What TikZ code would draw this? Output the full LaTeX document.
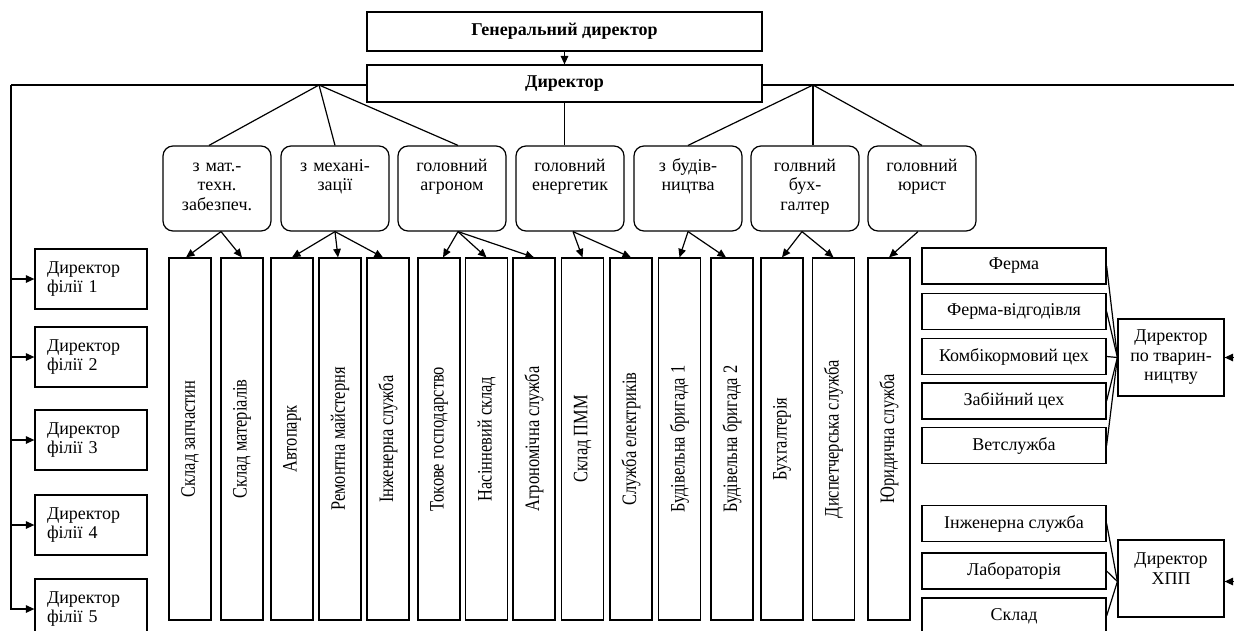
\documentclass[tikz,border=0pt]{standalone}
\usepackage{fontspec}
\setmainfont{Liberation Serif}
\usepackage{graphicx}
\usetikzlibrary{arrows.meta}
\newcommand\fsn{\fontsize{18}{19.5}\selectfont}
\newcommand\fsb{\fontsize{18}{19.5}\selectfont\bfseries}
\newcommand\fsv{\fontsize{20.5}{22}\selectfont}
\newcommand\vt[1]{\scalebox{0.8}[1]{\fsv #1}}
\begin{document}
\begin{tikzpicture}[x=1pt,y=-1pt,
  ln/.style={line width=1.2pt},
  arr/.style={line width=1.2pt,-{Triangle[length=8.5pt,width=7.5pt]}},
  topbox/.style={draw,line width=1.2pt,minimum width=395pt,inner sep=0pt,font=\fsb},
  rbox/.style={draw,line width=1.2pt,rounded corners=10pt,minimum width=108pt,minimum height=85pt,inner sep=0pt},
  rtext/.style={text width=106pt,align=center,anchor=base,inner sep=0pt,font=\fsn},
  vbox/.style={draw,line width=1.2pt,rotate=90,minimum width=362pt,minimum height=42pt,inner sep=0pt},
  lbox/.style={draw,line width=1.2pt,minimum width=112pt,minimum height=60pt,text width=88pt,inner xsep=12pt,inner ysep=0pt,align=left,font=\fsn},
  sbox/.style={draw,line width=1.2pt,minimum width=184pt,minimum height=36pt,inner sep=0pt,font=\fsn},
  dbox/.style={draw,line width=1.2pt,minimum width=106pt,minimum height=77pt,inner sep=0pt,align=center,font=\fsn}]
\useasboundingbox (0,0) rectangle (1234,630);

% top
\node[topbox,minimum height=39pt] (gen) at (564.5,31.5) {Генеральний директор};
\node[topbox,minimum height=37pt] (dir) at (564.5,83.5) {Директор};
\draw[arr] (gen.south) -- (dir.north);

\coordinate (jl) at (319,85);
\coordinate (jr) at (813,85);
\coordinate (lc) at (11,85);
\coordinate (rc) at (1238,85);

% rounded boxes
\foreach \n/\x in {1/217,2/335,3/452,4/570,5/688,6/805,7/922}
  \node[rbox] (r\n) at (\x,188.5) {};
\node[rtext] (r1t) at (217,171) {з мат.-\\техн.\\забезпеч.};
\node[rtext] (r2t) at (335,171) {з механі-\\зації};
\node[rtext] (r3t) at (452,171) {головний\\агроном};
\node[rtext] (r4t) at (570,171) {головний\\енергетик};
\node[rtext] (r5t) at (688,171) {з будів-\\ництва};
\node[rtext] (r6t) at (805,171) {голвний\\бух-\\галтер};
\node[rtext] (r7t) at (922,171) {головний\\юрист};

\draw[ln] (dir.west |- jl) -- (jl) -- (lc);
\draw[ln] (dir.east |- jr) -- (jr) -- (rc);
\draw[ln] (jl) -- ([xshift=-8pt]r1.north);
\draw[ln] (jl) -- (r2.north);
\draw[ln] (jl) -- ([xshift=6pt]r3.north);
\draw[ln] (dir.south) -- (dir.south |- r4.north);
\draw[ln] (jr) -- (r5.north);
\draw[ln] (jr) -- (jr |- r6.north);
\draw[ln] (jr) -- (r7.north);

% vertical boxes
\node[vbox] (v1) at (190,439) {\vt{Склад запчастин}};
\node[vbox] (v2) at (242,439) {\vt{Склад матеріалів}};
\node[vbox] (v3) at (292,439) {\vt{Автопарк}};
\node[vbox] (v4) at (340,439) {\vt{Ремонтна майстерня}};
\node[vbox] (v5) at (388,439) {\vt{Інженерна служба}};
\node[vbox] (v6) at (439,439) {\vt{Токове господарство}};
\node[vbox] (v7) at (486.5,439) {\vt{Насінневий склад}};
\node[vbox] (v8) at (534,439) {\vt{Агрономічна служба}};
\node[vbox] (v9) at (582.5,439) {\vt{Склад ПММ}};
\node[vbox] (v10) at (631,439) {\vt{Служба електриків}};
\node[vbox] (v11) at (679.5,439) {\vt{Будівельна бригада 1}};
\node[vbox] (v12) at (732,439) {\vt{Будівельна бригада 2}};
\node[vbox] (v13) at (782,439) {\vt{Бухгалтерія}};
\node[vbox] (v14) at (833.5,439) {\vt{Диспетчерська служба}};
\node[vbox] (v15) at (889,439) {\vt{Юридична служба}};

\draw[arr] ([xshift=4pt]r1.south) -- ([xshift=-4pt]v1.east);
\draw[arr] ([xshift=4pt]r1.south) -- (v2.east);
\draw[arr] (r2.south) -- (v3.east);
\draw[arr] (r2.south) -- ([xshift=-2pt]v4.east);
\draw[arr] (r2.south) -- ([xshift=-5pt]v5.east);
\draw[arr] ([xshift=6pt]r3.south) -- ([xshift=4pt]v6.east);
\draw[arr] ([xshift=6pt]r3.south) -- (v7.east);
\draw[arr] ([xshift=6pt]r3.south) -- (v8.east);
\draw[arr] ([xshift=3pt]r4.south) -- (v9.east);
\draw[arr] ([xshift=3pt]r4.south) -- (v10.east);
\draw[arr] (r5.south) -- (v11.east);
\draw[arr] (r5.south) -- ([xshift=-6pt]v12.east);
\draw[arr] ([xshift=-3pt]r6.south) -- (v13.east);
\draw[arr] ([xshift=-3pt]r6.south) -- (v14.east);
\draw[arr] ([xshift=-4pt]r7.south) -- (v15.east);

% left directors
\node[lbox] (l1) at (91,279) {Директор\\філії 1};
\node[lbox] (l2) at (91,357) {Директор\\філії 2};
\node[lbox] (l3) at (91,440) {Директор\\філії 3};
\node[lbox] (l4) at (91,525) {Директор\\філії 4};
\node[lbox] (l5) at (91,609) {Директор\\філії 5};
\draw[arr] (lc) -- (lc |- l5.west) -- (l5.west);
\foreach \i in {1,2,3,4}
  \draw[arr] (lc |- l\i.west) -- (l\i.west);

% right blocks
\node[sbox] (f1) at (1014,266) {Ферма};
\node[sbox] (f2) at (1014,311.5) {Ферма-відгодівля};
\node[sbox] (f3) at (1014,356.5) {Комбікормовий цех};
\node[sbox] (f4) at (1014,401) {Забійний цех};
\node[sbox] (f5) at (1014,445.5) {Ветслужба};
\node[sbox] (h1) at (1014,523.5) {Інженерна служба};
\node[sbox] (h2) at (1014,571) {Лабораторія};
\node[sbox] (h3) at (1014,616) {Склад};

\node[dbox] (dt) at (1171,357.5) {Директор\\по тварин-\\ництву};
\node[dbox] (dh) at (1171,578.5) {Директор\\ХПП\\\mbox{}};

\foreach \i in {1,...,5}
  \draw[ln] (f\i.east) -- (dt.west);
\foreach \i in {1,2,3}
  \draw[ln] (h\i.east) -- ([yshift=-3pt]dh.west);

\draw[ln] (rc) -- (rc |- dh.east);
\draw[arr] (rc |- dt.east) -- (dt.east);
\draw[arr] ([yshift=-3pt]rc |- dh.east) -- ([yshift=-3pt]dh.east);
\end{tikzpicture}
\end{document}
